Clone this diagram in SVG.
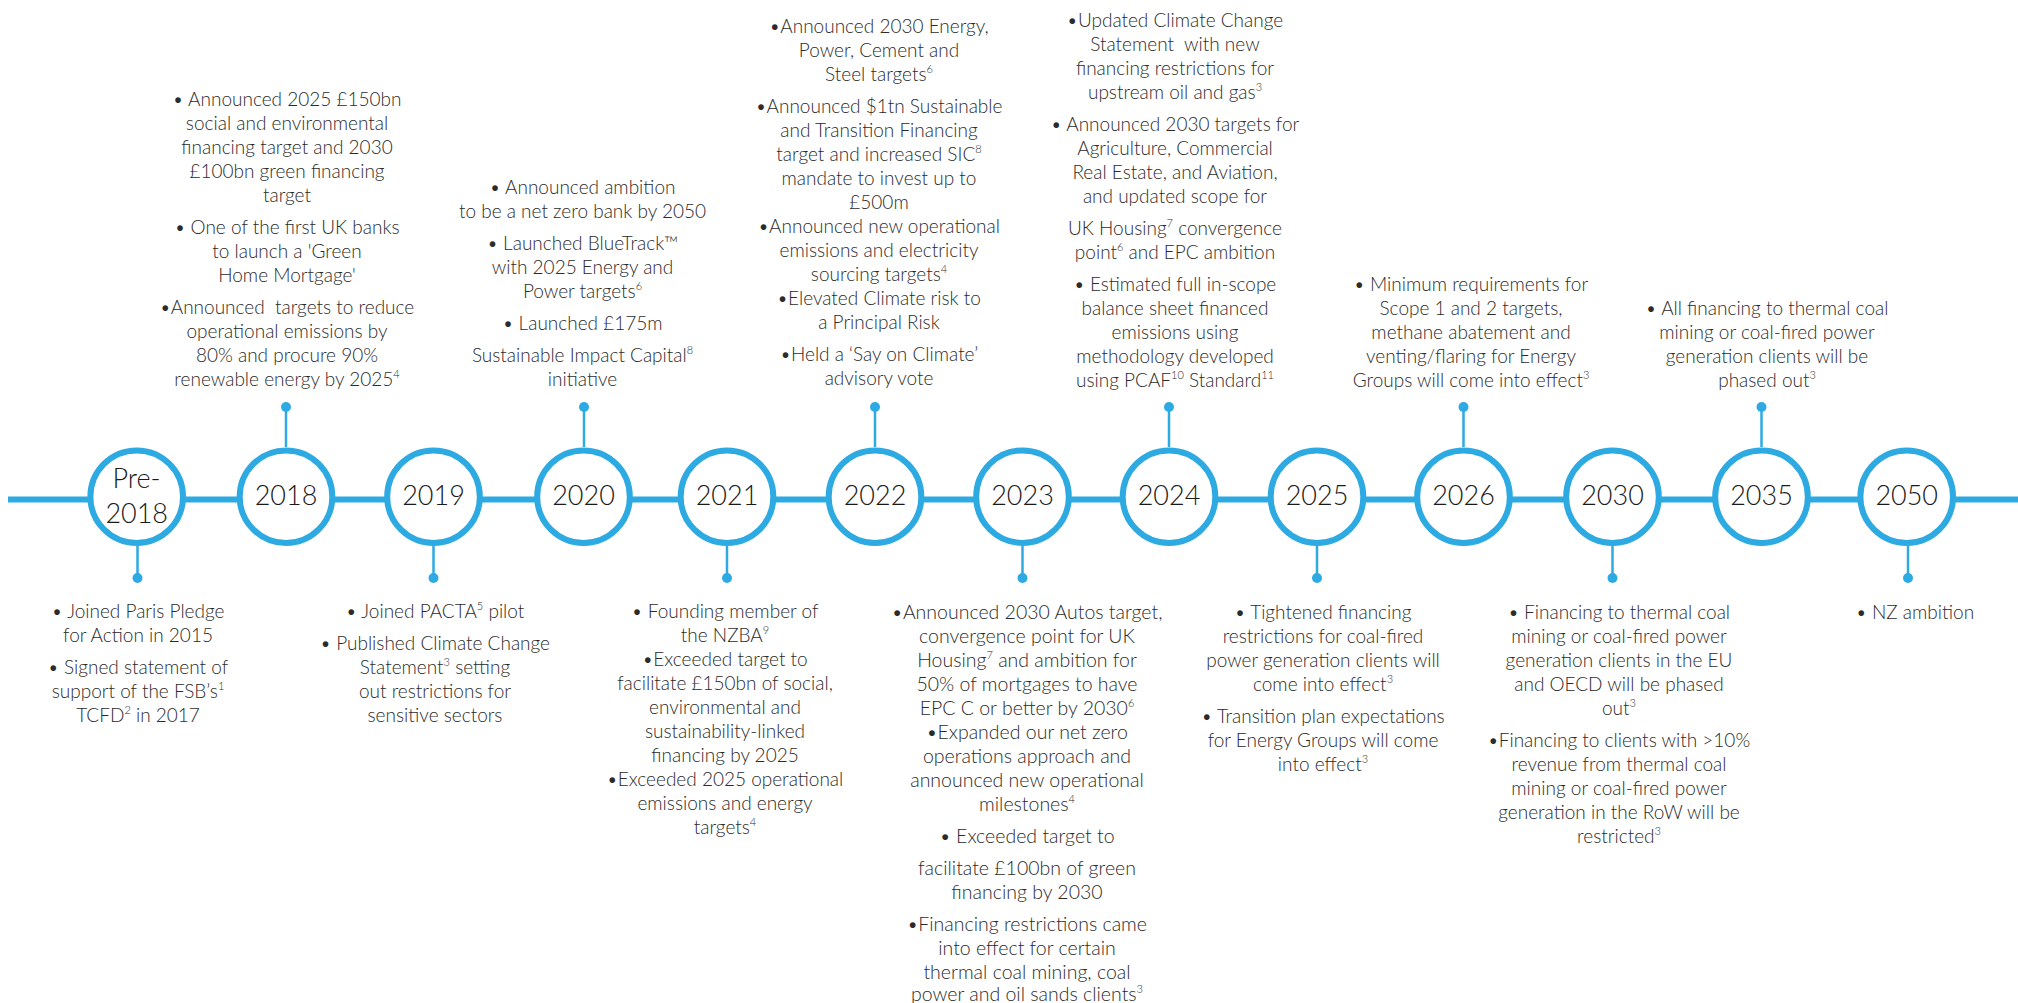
<svg xmlns="http://www.w3.org/2000/svg" width="2018" height="1003" viewBox="0 0 2018 1003">
<style>
.tl{stroke:#2eaae2;stroke-width:6;fill:none}
.stem{stroke:#2eaae2;stroke-width:2.5;fill:none}
.dot{fill:#2eaae2}
.ring{fill:#fff;stroke:#2eaae2;stroke-width:6}
.yr{font-family:Lato,"Liberation Sans",sans-serif;font-weight:300;font-size:27px;fill:#1a1a1a;text-anchor:middle}
.tx{font-family:Lato,"Liberation Sans",sans-serif;font-weight:300;font-size:19px;fill:#2b2b2b;text-anchor:middle}
.big{font-size:19.5px}
.sup{font-size:11px;baseline-shift:8px}
</style>
<rect width="2018" height="1003" fill="#fff"/>
<g id="connectors">
<line class="tl" x1="8" y1="499.5" x2="2018" y2="499.5"/>
<line class="stem" x1="137.5" y1="546" x2="137.5" y2="578"/><circle class="dot" cx="137.5" cy="578" r="5"/>
<line class="stem" x1="286" y1="447" x2="286" y2="407"/><circle class="dot" cx="286" cy="407" r="5"/>
<line class="stem" x1="433.5" y1="546" x2="433.5" y2="578"/><circle class="dot" cx="433.5" cy="578" r="5"/>
<line class="stem" x1="584" y1="447" x2="584" y2="407"/><circle class="dot" cx="584" cy="407" r="5"/>
<line class="stem" x1="727" y1="546" x2="727" y2="578"/><circle class="dot" cx="727" cy="578" r="5"/>
<line class="stem" x1="875" y1="447" x2="875" y2="407"/><circle class="dot" cx="875" cy="407" r="5"/>
<line class="stem" x1="1022.5" y1="546" x2="1022.5" y2="578"/><circle class="dot" cx="1022.5" cy="578" r="5"/>
<line class="stem" x1="1169" y1="447" x2="1169" y2="407"/><circle class="dot" cx="1169" cy="407" r="5"/>
<line class="stem" x1="1317" y1="546" x2="1317" y2="578"/><circle class="dot" cx="1317" cy="578" r="5"/>
<line class="stem" x1="1463.5" y1="447" x2="1463.5" y2="407"/><circle class="dot" cx="1463.5" cy="407" r="5"/>
<line class="stem" x1="1612.5" y1="546" x2="1612.5" y2="578"/><circle class="dot" cx="1612.5" cy="578" r="5"/>
<line class="stem" x1="1761.5" y1="447" x2="1761.5" y2="407"/><circle class="dot" cx="1761.5" cy="407" r="5"/>
<line class="stem" x1="1908" y1="546" x2="1908" y2="578"/><circle class="dot" cx="1908" cy="578" r="5"/>
</g>

<g id="node-pre2018">
<circle class="ring" cx="136.7" cy="496.7" r="46.3"/>
<text class="yr"><tspan x="136.5" y="488.3">Pre-</tspan><tspan x="136.7" y="523.3">2018</tspan></text>
<text class="tx"><tspan x="138" y="618">• Joined Paris Pledge</tspan><tspan x="138" y="642">for Action in 2015</tspan><tspan x="138" y="674">• Signed statement of</tspan><tspan x="138" y="698">support of the FSB’s<tspan class="sup">1</tspan></tspan><tspan x="138" y="722">TCFD<tspan class="sup">2</tspan> in 2017</tspan></text>
</g>

<g id="node-2018">
<circle class="ring" cx="286" cy="496.7" r="46.3"/>
<text class="yr" x="286" y="505.3">2018</text>
<text class="tx" xml:space="preserve"><tspan x="287" y="106">• Announced 2025 £150bn</tspan><tspan x="287" y="130">social and environmental</tspan><tspan x="287" y="154">financing target and 2030</tspan><tspan x="287" y="178">£100bn green financing</tspan><tspan x="287" y="202">target</tspan><tspan x="287" y="234">• One of the first UK banks</tspan><tspan x="287" y="258">to launch a 'Green</tspan><tspan x="287" y="282">Home Mortgage'</tspan><tspan x="287" y="314">•Announced  targets to reduce</tspan><tspan x="287" y="338">operational emissions by</tspan><tspan x="287" y="362">80% and procure 90%</tspan><tspan x="287" y="386">renewable energy by 2025<tspan class="sup">4</tspan></tspan></text>
</g>

<g id="node-2019">
<circle class="ring" cx="433.5" cy="496.7" r="46.3"/>
<text class="yr" x="433.5" y="505.3">2019</text>
<text class="tx"><tspan x="435" y="618">• Joined PACTA<tspan class="sup">5</tspan> pilot</tspan><tspan x="435" y="650">• Published Climate Change</tspan><tspan x="435" y="674">Statement<tspan class="sup">3</tspan> setting</tspan><tspan x="435" y="698">out restrictions for</tspan><tspan x="435" y="722">sensitive sectors</tspan></text>
</g>

<g id="node-2020">
<circle class="ring" cx="583.5" cy="496.7" r="46.3"/>
<text class="yr" x="583.5" y="505.3">2020</text>
<text class="tx"><tspan x="582.5" y="194">• Announced ambition</tspan><tspan x="582.5" y="218">to be a net zero bank by 2050</tspan><tspan x="582.5" y="250">• Launched BlueTrack™</tspan><tspan x="582.5" y="274">with 2025 Energy and</tspan><tspan x="582.5" y="298">Power targets<tspan class="sup">6</tspan></tspan><tspan x="582.5" y="330">• Launched £175m</tspan><tspan x="582.5" y="362">Sustainable Impact Capital<tspan class="sup">8</tspan></tspan><tspan x="582.5" y="386">initiative</tspan></text>
</g>

<g id="node-2021">
<circle class="ring" cx="727" cy="496.7" r="46.3"/>
<text class="yr" x="727" y="505.3">2021</text>
<text class="tx"><tspan x="725" y="618">• Founding member of</tspan><tspan x="725" y="642">the NZBA<tspan class="sup">9</tspan></tspan><tspan x="725" y="666">•Exceeded target to</tspan><tspan x="725" y="690">facilitate £150bn of social,</tspan><tspan x="725" y="714">environmental and</tspan><tspan x="725" y="738">sustainability-linked</tspan><tspan x="725" y="762">financing by 2025</tspan><tspan x="725" y="786">•Exceeded 2025 operational</tspan><tspan x="725" y="810">emissions and energy</tspan><tspan x="725" y="834">targets<tspan class="sup">4</tspan></tspan></text>
</g>

<g id="node-2022">
<circle class="ring" cx="875" cy="496.7" r="46.3"/>
<text class="yr" x="875" y="505.3">2022</text>
<text class="tx"><tspan x="879" y="33">•Announced 2030 Energy,</tspan><tspan x="879" y="57">Power, Cement and</tspan><tspan x="879" y="81">Steel targets<tspan class="sup">6</tspan></tspan><tspan x="879" y="113">•Announced $1tn Sustainable</tspan><tspan x="879" y="137">and Transition Financing</tspan><tspan x="879" y="161">target and increased SIC<tspan class="sup">8</tspan></tspan><tspan x="879" y="185">mandate to invest up to</tspan><tspan x="879" y="209">£500m</tspan><tspan x="879" y="233">•Announced new operational</tspan><tspan x="879" y="257">emissions and electricity</tspan><tspan x="879" y="281">sourcing targets<tspan class="sup">4</tspan></tspan><tspan x="879" y="305">•Elevated Climate risk to</tspan><tspan x="879" y="329">a Principal Risk</tspan><tspan x="879" y="361">•Held a ‘Say on Climate’</tspan><tspan x="879" y="385">advisory vote</tspan></text>
</g>

<g id="node-2023">
<circle class="ring" cx="1022.5" cy="496.7" r="46.3"/>
<text class="yr" x="1022.5" y="505.3">2023</text>
<text class="tx big"><tspan x="1027" y="619">•Announced 2030 Autos target,</tspan><tspan x="1027" y="643">convergence point for UK</tspan><tspan x="1027" y="667">Housing<tspan class="sup">7</tspan> and ambition for</tspan><tspan x="1027" y="691">50% of mortgages to have</tspan><tspan x="1027" y="715">EPC C or better by 2030<tspan class="sup">6</tspan></tspan><tspan x="1027" y="739">•Expanded our net zero</tspan><tspan x="1027" y="763">operations approach and</tspan><tspan x="1027" y="787">announced new operational</tspan><tspan x="1027" y="811">milestones<tspan class="sup">4</tspan></tspan><tspan x="1027" y="843">• Exceeded target to</tspan><tspan x="1027" y="875">facilitate £100bn of green</tspan><tspan x="1027" y="899">financing by 2030</tspan><tspan x="1027" y="931">•Financing restrictions came</tspan><tspan x="1027" y="955">into effect for certain</tspan><tspan x="1027" y="979">thermal coal mining, coal</tspan><tspan x="1027" y="1001">power and oil sands clients<tspan class="sup">3</tspan></tspan></text>
</g>

<g id="node-2024">
<circle class="ring" cx="1169" cy="496.7" r="46.3"/>
<text class="yr" x="1169" y="505.3">2024</text>
<text class="tx" xml:space="preserve"><tspan x="1175" y="27">•Updated Climate Change</tspan><tspan x="1175" y="51">Statement  with new</tspan><tspan x="1175" y="75">financing restrictions for</tspan><tspan x="1175" y="99">upstream oil and gas<tspan class="sup">3</tspan></tspan><tspan x="1175" y="131">• Announced 2030 targets for</tspan><tspan x="1175" y="155">Agriculture, Commercial</tspan><tspan x="1175" y="179">Real Estate, and Aviation,</tspan><tspan x="1175" y="203">and updated scope for</tspan><tspan x="1175" y="235">UK Housing<tspan class="sup">7</tspan> convergence</tspan><tspan x="1175" y="259">point<tspan class="sup">6</tspan> and EPC ambition</tspan><tspan x="1175" y="291">• Estimated full in-scope</tspan><tspan x="1175" y="315">balance sheet financed</tspan><tspan x="1175" y="339">emissions using</tspan><tspan x="1175" y="363">methodology developed</tspan><tspan x="1175" y="387">using PCAF<tspan class="sup">10</tspan> Standard<tspan class="sup">11</tspan></tspan></text>
</g>

<g id="node-2025">
<circle class="ring" cx="1317" cy="496.7" r="46.3"/>
<text class="yr" x="1317" y="505.3">2025</text>
<text class="tx"><tspan x="1323" y="619">• Tightened financing</tspan><tspan x="1323" y="643">restrictions for coal-fired</tspan><tspan x="1323" y="667">power generation clients will</tspan><tspan x="1323" y="691">come into effect<tspan class="sup">3</tspan></tspan><tspan x="1323" y="723">• Transition plan expectations</tspan><tspan x="1323" y="747">for Energy Groups will come</tspan><tspan x="1323" y="771">into effect<tspan class="sup">3</tspan></tspan></text>
</g>

<g id="node-2026">
<circle class="ring" cx="1463.5" cy="496.7" r="46.3"/>
<text class="yr" x="1463.5" y="505.3">2026</text>
<text class="tx"><tspan x="1471" y="291">• Minimum requirements for</tspan><tspan x="1471" y="315">Scope 1 and 2 targets,</tspan><tspan x="1471" y="339">methane abatement and</tspan><tspan x="1471" y="363">venting/flaring for Energy</tspan><tspan x="1471" y="387">Groups will come into effect<tspan class="sup">3</tspan></tspan></text>
</g>

<g id="node-2030">
<circle class="ring" cx="1612.5" cy="496.7" r="46.3"/>
<text class="yr" x="1612.5" y="505.3">2030</text>
<text class="tx"><tspan x="1619" y="619">• Financing to thermal coal</tspan><tspan x="1619" y="643">mining or coal-fired power</tspan><tspan x="1619" y="667">generation clients in the EU</tspan><tspan x="1619" y="691">and OECD will be phased</tspan><tspan x="1619" y="715">out<tspan class="sup">3</tspan></tspan><tspan x="1619" y="747">•Financing to clients with &gt;10%</tspan><tspan x="1619" y="771">revenue from thermal coal</tspan><tspan x="1619" y="795">mining or coal-fired power</tspan><tspan x="1619" y="819">generation in the RoW will be</tspan><tspan x="1619" y="843">restricted<tspan class="sup">3</tspan></tspan></text>
</g>

<g id="node-2035">
<circle class="ring" cx="1761.5" cy="496.7" r="46.3"/>
<text class="yr" x="1761.5" y="505.3">2035</text>
<text class="tx"><tspan x="1767" y="315">• All financing to thermal coal</tspan><tspan x="1767" y="339">mining or coal-fired power</tspan><tspan x="1767" y="363">generation clients will be</tspan><tspan x="1767" y="387">phased out<tspan class="sup">3</tspan></tspan></text>
</g>

<g id="node-2050">
<circle class="ring" cx="1906.7" cy="496.7" r="46.3"/>
<text class="yr" x="1906.7" y="505.3">2050</text>
<text class="tx"><tspan x="1915" y="619">• NZ ambition</tspan></text>
</g>
</svg>
